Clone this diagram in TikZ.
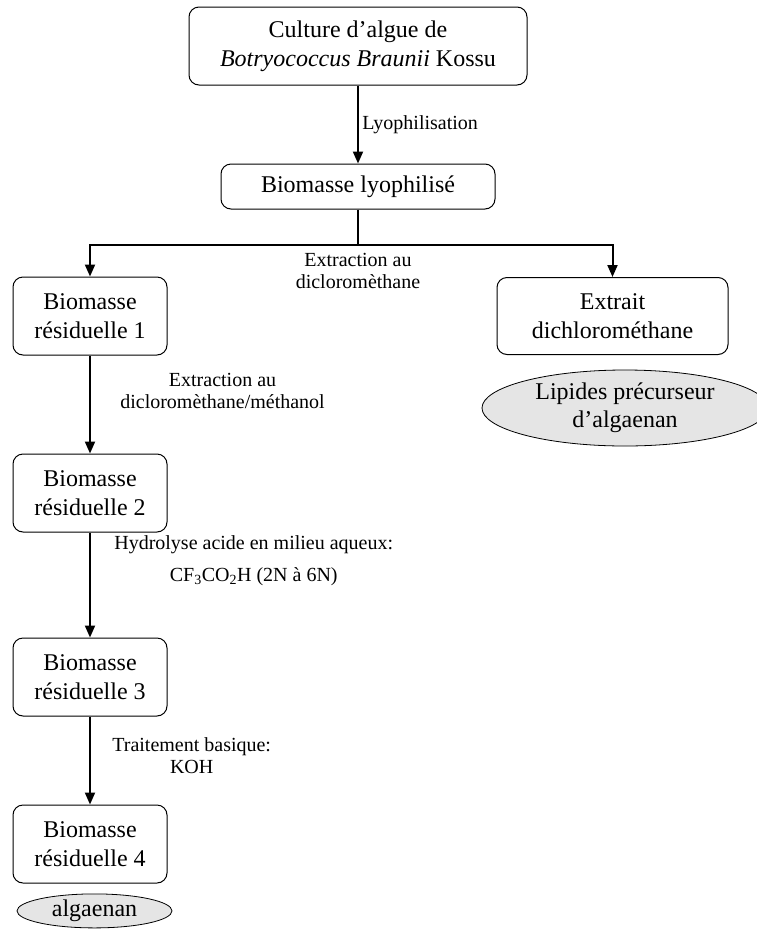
\documentclass[tikz,border=0pt]{standalone}
\usepackage{fontspec}
\setmainfont{Liberation Serif}
\usetikzlibrary{shapes.geometric, arrows.meta, positioning, calc}

\begin{document}
\begin{tikzpicture}[
  x=1pt, y=-1pt,
  box/.style={rectangle, rounded corners=10pt, draw, line width=1pt, align=center, font=\fontsize{24}{29}\selectfont, inner sep=0pt},
  prod/.style={ellipse, draw, line width=0.8pt, fill=black!10, align=center, font=\fontsize{24}{28}\selectfont, inner sep=0pt},
  resid/.style={box, minimum width=154pt, minimum height=78pt},
  arrow/.style={-{Triangle[length=12pt,width=10pt]}, line width=2pt},
  link/.style={line width=2pt},
  lbl/.style={font=\fontsize{20}{22}\selectfont, align=center}
]
\useasboundingbox (0,0) rectangle (757,930);

% Culture de depart
\node[box, minimum width=338pt, minimum height=78pt] (culture) at (358,46) {Culture d'algue de\\\textit{Botryococcus Braunii} Kossu};

% Biomasse lyophilisee
\node[box, minimum width=274pt, minimum height=45pt, below=78pt of culture] (lyo) {Biomasse lyophilisé};
\coordinate[below=35pt of lyo.south] (split);

% Premiere extraction
\node[resid] (res1) at (90,316) {Biomasse\\résiduelle 1};
\node[box, minimum width=231pt, minimum height=77pt] (extrait) at (612.5,316) {Extrait\\dichlorométhane};
\node[prod, minimum width=286pt, minimum height=76pt] (lipides) at (625,408) {Lipides précurseur\\d'algaenan};

% Residus successifs
\node[resid, below=98pt of res1] (res2) {Biomasse\\résiduelle 2};
\node[resid, below=105pt of res2] (res3) {Biomasse\\résiduelle 3};
\node[resid, below=88pt of res3] (res4) {Biomasse\\résiduelle 4};
\node[prod, minimum width=155pt, minimum height=34pt, below=10pt of res4, xshift=4.5pt] (alg) {algaenan};

% Fleches
\draw[arrow] (culture) -- node[lbl, right] {Lyophilisation} (lyo);
\draw[link] (lyo) -- (split);
\draw[arrow] (split) -| (res1);
\draw[arrow] (split) -| (extrait);
\node[lbl, below=5pt of split] (ext1) {Extraction au\\dicloromèthane};
\draw[arrow] (res1) -- node[lbl, right, pos=0.36, xshift=26pt] {Extraction au\\dicloromèthane/méthanol} (res2);
\draw[arrow] (res2) -- node[lbl, right, pos=0.27, xshift=20pt] {Hydrolyse acide en milieu aqueux:\\[10pt]CF\textsubscript{3}CO\textsubscript{2}H (2N à 6N)} (res3);
\draw[arrow] (res3) -- node[lbl, right, pos=0.44, xshift=18pt] {Traitement basique:\\KOH} (res4);

\end{tikzpicture}
\end{document}
